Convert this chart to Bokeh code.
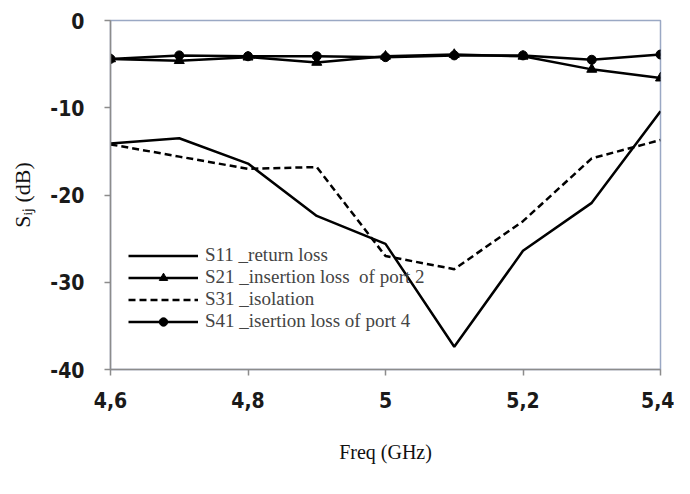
import numpy as np
from bokeh.plotting import figure
from bokeh.models import FixedTicker, Legend, LegendItem, Range1d
from bokeh.embed import file_html
from bokeh.resources import INLINE

freq = [4.6, 4.7, 4.8, 4.9, 5.0, 5.1, 5.2, 5.3, 5.4]
s11 = [-14.1, -13.5, -16.4, -22.4, -25.6, -37.4, -26.4, -20.9, -10.4]
s21 = [-4.4, -4.6, -4.2, -4.8, -4.1, -3.9, -4.1, -5.6, -6.6]
s31 = [-14.2, -15.6, -17.0, -16.8, -27.0, -28.5, -23.0, -15.8, -13.7]
s41 = [-4.4, -4.0, -4.1, -4.1, -4.2, -4.0, -4.0, -4.5, -3.9]

x_ticks = [4.6, 4.8, 5.0, 5.2, 5.4]
x_tick_labels = ["4,6", "4,8", "5", "5,2", "5,4"]
y_ticks = [0, -10, -20, -30, -40]
y_tick_labels = ["0", "-10", "-20", "-30", "-40"]
names = ["S11 _return loss", "S21 _insertion loss  of port 2", "S31 _isolation", "S41 _isertion loss of port 4"]

W, H = 674, 478
p = figure(width=W, height=H, output_backend="svg", toolbar_location=None,
           x_range=Range1d(4.6, 5.4), y_range=Range1d(-40, 0),
           min_border_left=110, min_border_right=14, min_border_top=20, min_border_bottom=109)
p.grid.visible = False
p.outline_line_color = "#9aa8c4"
p.outline_line_width = 1.5
p.background_fill_color = "white"
p.border_fill_color = "white"

tick_font = "'DejaVu Sans Condensed', 'Liberation Sans Narrow', 'Roboto Condensed', 'Liberation Sans', sans-serif"
p.xaxis.ticker = FixedTicker(ticks=x_ticks)
p.xaxis.major_label_overrides = {t: l for t, l in zip(x_ticks, x_tick_labels)}
p.yaxis.ticker = FixedTicker(ticks=y_ticks)
p.yaxis.major_label_overrides = {t: l for t, l in zip(y_ticks, y_tick_labels)}
for ax in (p.xaxis, p.yaxis):
    ax.axis_line_color = "#8c8c8c"
    ax.axis_line_width = 1.5
    ax.major_tick_line_color = "#8c8c8c"
    ax.major_tick_line_width = 1.5
    ax.major_tick_out = 6
    ax.major_tick_in = 0
    ax.minor_tick_line_color = None
    ax.major_label_text_font = tick_font
    ax.major_label_text_font_size = "21px"
    ax.major_label_text_font_style = "bold"
    ax.major_label_text_color = "#1a1a1a"
    ax.axis_label_text_font = "Liberation Serif"
    ax.axis_label_text_font_style = "normal"
    ax.axis_label_text_color = "#111111"
p.xaxis.axis_label_text_font_size = "20px"
p.yaxis.axis_label_text_font_size = "22px"
p.xaxis.major_label_standoff = 16
p.yaxis.major_label_standoff = 20
p.xaxis.axis_label = "Freq (GHz)"
p.xaxis.axis_label_standoff = 30
p.yaxis.axis_label = "S\u1d62\u2c7c (dB)"
p.yaxis.axis_label_standoff = 12

lw = 2.5
r11 = p.line(freq, s11, line_color="black", line_width=lw)
r21 = p.line(freq, s21, line_color="black", line_width=lw)
m21 = p.scatter(freq, s21, marker="triangle", size=10, color="black")
r31 = p.line(freq, s31, line_color="black", line_width=lw, line_dash="7 4")
r41 = p.line(freq, s41, line_color="black", line_width=lw)
m41 = p.scatter(freq, s41, marker="circle", size=9, color="black")

legend = Legend(items=[
    LegendItem(label=names[0], renderers=[r11]),
    LegendItem(label=names[1], renderers=[r21, m21]),
    LegendItem(label=names[2], renderers=[r31]),
    LegendItem(label=names[3], renderers=[r41, m41]),
], location=(18, 37))
legend.padding = 0
legend.margin = 0
legend.spacing = 0
legend.glyph_width = 70
legend.glyph_height = 21
legend.label_height = 21
legend.label_standoff = 7
legend.label_text_font = "Liberation Serif"
legend.label_text_font_size = "19px"
legend.border_line_color = None
legend.background_fill_alpha = 0
p.add_layout(legend, "center")

open("out.html", "w").write(file_html(p, INLINE))
